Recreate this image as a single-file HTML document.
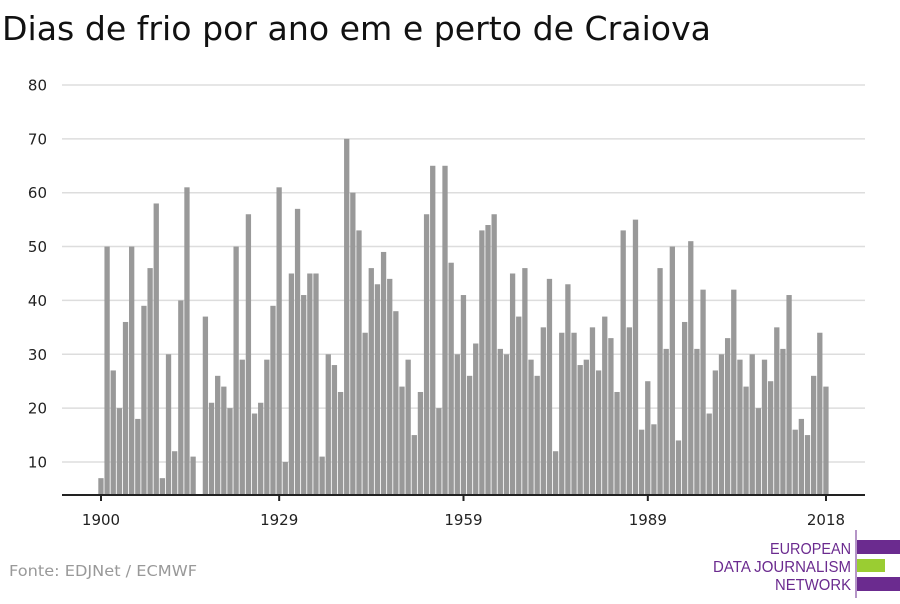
<!DOCTYPE html>
<html><head><meta charset="utf-8"><style>
body{margin:0;width:900px;height:600px;background:#fff;overflow:hidden;font-family:"DejaVu Sans",sans-serif}
</style></head><body>
<svg id="s" width="900" height="600" xmlns="http://www.w3.org/2000/svg" font-family="DejaVu Sans, sans-serif">
<text x="2" y="40" font-size="33" fill="#111" textLength="709" lengthAdjust="spacingAndGlyphs">Dias de frio por ano em e perto de Craiova</text>
<g id="grid"></g>
<g id="bars" fill="#999"></g>
<line x1="62" y1="495" x2="865" y2="495" stroke="#222" stroke-width="2"/>
<g id="ticks"></g>
<text x="9" y="576" font-size="15" fill="#999" textLength="188" lengthAdjust="spacingAndGlyphs">Fonte: EDJNet / ECMWF</text>
<g font-size="16" fill="#6b2b8f" font-family="Liberation Sans Narrow, Liberation Sans, sans-serif">
<text x="770" y="554" textLength="81" lengthAdjust="spacingAndGlyphs">EUROPEAN</text>
<text x="713" y="572" textLength="138" lengthAdjust="spacingAndGlyphs">DATA JOURNALISM</text>
<text x="775" y="590" textLength="76" lengthAdjust="spacingAndGlyphs">NETWORK</text>
</g>
<rect x="857" y="540" width="43" height="14" fill="#6b2b8f"/>
<rect x="857" y="559" width="28" height="13" fill="#9acd32"/>
<rect x="857" y="577" width="43" height="14" fill="#6b2b8f"/>
<line x1="856" y1="530" x2="856" y2="598" stroke="#6b2b8f" stroke-width="1"/>
</svg>
<script>
var v=[7,50,27,20,36,50,18,39,46,58,7,30,12,40,61,11,4,37,21,26,24,20,50,29,56,19,21,29,39,61,10,45,57,41,45,45,11,30,28,23,70,60,53,34,46,43,49,44,38,24,29,15,23,56,65,20,65,47,30,41,26,32,53,54,56,31,30,45,37,46,29,26,35,44,12,34,43,34,28,29,35,27,37,33,23,53,35,55,16,25,17,46,31,50,14,36,51,31,42,19,27,30,33,42,29,24,30,20,29,25,35,31,41,16,18,15,26,34,24];
var ns="http://www.w3.org/2000/svg";
function Y(d){return 462-(d-10)*5.386;}
var g=document.getElementById('grid'),b=document.getElementById('bars'),t=document.getElementById('ticks');
function el(p,n,a,txt){var e=document.createElementNS(ns,n);for(var k in a)e.setAttribute(k,a[k]);if(txt)e.textContent=txt;p.appendChild(e);}
for(var d=10;d<=80;d+=10){var y=Y(d);el(g,'line',{x1:62,x2:865,y1:y,y2:y,stroke:'#ddd','stroke-width':1.5});el(g,'text',{x:47,y:y+5.5,'font-size':15,fill:'#222','text-anchor':'end'},String(d));}
for(var i=0;i<v.length;i++){var cx=101+i*6.144,y=Y(v[i]);el(b,'rect',{x:cx-2.7,y:y,width:5.3,height:495-y});}
[1900,1929,1959,1989,2018].forEach(function(yr){var x=101+(yr-1900)*6.144;el(t,'line',{x1:x,x2:x,y1:495,y2:501,stroke:'#222','stroke-width':2});el(t,'text',{x:x,y:525,'font-size':15,fill:'#222','text-anchor':'middle'},String(yr));});
</script>
</body></html>
